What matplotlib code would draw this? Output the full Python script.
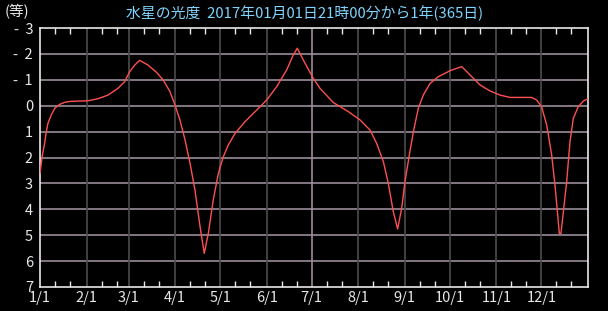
import matplotlib.pyplot as plt
from matplotlib.ticker import FixedLocator, NullFormatter

plt.rcParams['font.family'] = ['Noto Sans CJK JP', 'DejaVu Sans']

# days since 1/1 and magnitude
days = [0, 0.9, 1.6, 3.1, 4.2, 5.3, 7.5, 9.8, 13.1, 16.4, 20.9, 32, 38.6,
        45.3, 51.9, 56.4, 59.7, 63.1, 66.4, 71.9, 77.6, 82.1, 86.6, 89.9,
        93.2, 96.6, 99.9, 103.2, 106.6, 109.4, 112.1, 115.4, 118.8, 122.1,
        125.4, 129.9, 136.5, 144.3, 151, 157.6, 164.3, 168.7, 171.4, 175.4,
        182, 186.5, 195.4, 205.4, 213.2, 219.8, 224.2, 228.7, 232, 235.3,
        238.2, 240.9, 243.1, 246, 248.7, 252, 255.3, 259.8, 265.3, 273.1,
        280.9, 286.4, 293.1, 299.7, 306.4, 313, 319.7, 327.5, 330.8, 334.1,
        337.5, 340.8, 343, 344.6, 345.9, 347, 348.6, 350.8, 353, 355.2, 358.5,
        361.9, 364.8]
mags = [2.6, 2.2, 1.9, 1.45, 1.0, 0.68, 0.36, 0.10, -0.05, -0.13, -0.17,
        -0.19, -0.27, -0.41, -0.67, -0.93, -1.31, -1.57, -1.75, -1.57, -1.29,
        -0.99, -0.54, -0.03, 0.55, 1.32, 2.22, 3.25, 4.67, 5.70, 4.93, 3.64,
        2.61, 1.97, 1.52, 1.07, 0.62, 0.17, -0.22, -0.73, -1.38, -1.96, -2.22,
        -1.76, -1.06, -0.67, -0.12, 0.23, 0.55, 0.94, 1.45, 2.16, 3.0, 4.09,
        4.76, 3.96, 2.93, 1.90, 1.0, 0.10, -0.41, -0.86, -1.12, -1.35, -1.51,
        -1.19, -0.80, -0.57, -0.41, -0.32, -0.32, -0.32, -0.22, 0.04, 0.75,
        1.90, 3.06, 4.09, 4.93, 4.93, 4.09, 2.93, 1.39, 0.49, 0.04, -0.18,
        -0.26]

month_starts = [0, 31, 59, 90, 120, 151, 181, 212, 243, 273, 304, 334]
month_labels = ['1/1', '2/1', '3/1', '4/1', '5/1', '6/1', '7/1', '8/1',
                '9/1', '10/1', '11/1', '12/1']
ytick_vals = [-3, -2, -1, 0, 1, 2, 3, 4, 5, 6, 7]
ytick_labels = ['-  3', '-  2', '-  1', '0', '1', '2', '3', '4', '5', '6', '7']

title = '水星の光度  2017年01月01日21時00分から1年(365日)'

fg = '#e8e8e8'
hgrid = '#9c8c9c'
vgrid = '#4c4c4c'

fig = plt.figure(figsize=(6.08, 3.11), dpi=100, facecolor='black')
ax = fig.add_axes([40 / 608, 24 / 311, 548 / 608, 259 / 311], facecolor='black')

for y in ytick_vals[1:-1]:
    ax.axhline(y, color=hgrid, lw=1.2, zorder=1)
for i, d in enumerate(month_starts[1:]):
    c = hgrid if month_labels[i + 1] == '7/1' else vgrid
    ax.axvline(d, color=c, lw=1.2, zorder=1)

ax.plot(days, mags, color='#ff5050', lw=1.0, zorder=3)

ax.set_xlim(0, 365)
ax.set_ylim(7, -3)

ax.set_xticks(month_starts)
ax.set_xticklabels(month_labels)
minor = [m + k for m in month_starts for k in (10, 20)]
ax.xaxis.set_minor_locator(FixedLocator(minor))
ax.xaxis.set_minor_formatter(NullFormatter())
ax.tick_params(axis='x', which='major', length=0, pad=3, colors=fg, labelsize=10.5)
ax.tick_params(axis='x', which='minor', direction='in', length=4, width=1,
               color=fg, top=True, bottom=True)
ax.set_yticks(ytick_vals)
ax.set_yticklabels(ytick_labels)
ax.tick_params(axis='y', length=0, pad=5, colors=fg, labelsize=10.5)

for s in ax.spines.values():
    s.set_color(fg)
    s.set_linewidth(1.2)

fig.text(5 / 608, 1 - 12 / 311, '(等)', color=fg, fontsize=10.5, va='center', ha='left')
fig.text(305 / 608, 1 - 13 / 311, title, color='#80d4ff', fontsize=10.7,
         va='center', ha='center')

fig.savefig('out.png', dpi=100, facecolor='black')
